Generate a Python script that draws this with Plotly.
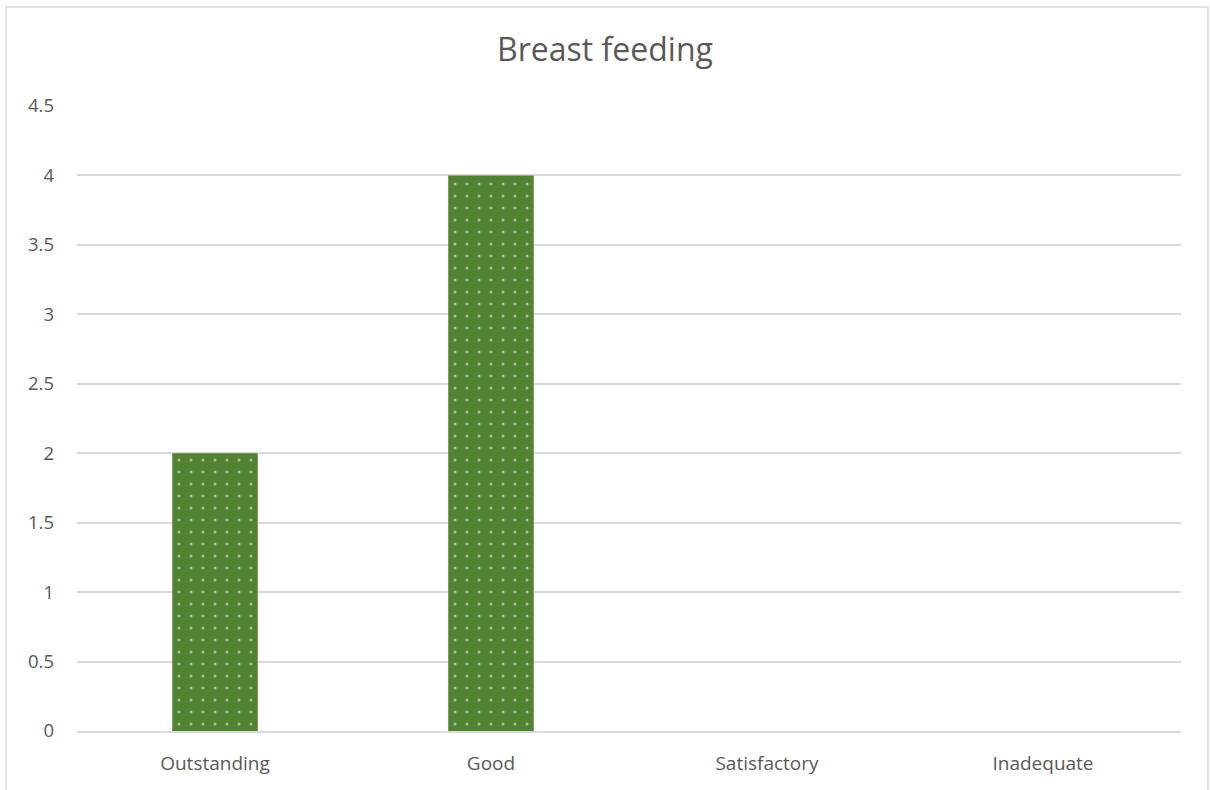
import plotly.graph_objects as go

categories = ["Outstanding", "Good", "Satisfactory", "Inadequate"]
values = [2, 4, 0, 0]
title_text = "Breast feeding"
y_ticks = [0, 0.5, 1, 1.5, 2, 2.5, 3, 3.5, 4, 4.5]
y_tick_labels = ["0", "0.5", "1", "1.5", "2", "2.5", "3", "3.5", "4", "4.5"]

W, H = 1210, 790
L, R, T, B = 77, 29, 106, 59
pw, ph = W - L - R, H - T - B

fig = go.Figure(go.Bar(
    x=categories, y=values,
    marker=dict(color="#548235", line=dict(width=0),
                pattern=dict(shape=".", fgcolor="white", bgcolor="#548235",
                             size=12, solidity=0.05, fillmode="overlay")),
    width=0.31,
))

fig.update_layout(
    width=W, height=H,
    margin=dict(l=L, r=R, t=T, b=B),
    paper_bgcolor="white", plot_bgcolor="white",
    showlegend=False,
    font=dict(family="Open Sans, sans-serif", color="#595959", size=18),
    title=dict(text=title_text, x=0.5, xanchor="center", y=1 - 50 / H, yanchor="middle",
               font=dict(size=32, color="#595959")),
    xaxis=dict(showgrid=False, showline=True, linecolor="#d9d9d9", linewidth=1.5,
               ticks="", ticklabelstandoff=14, tickfont=dict(size=19, color="#595959")),
    yaxis=dict(range=[0, 4.5], tickvals=y_ticks, ticktext=y_tick_labels,
               showgrid=True, gridcolor="#d9d9d9", gridwidth=1.5, zeroline=False,
               showline=False, ticks="", ticklabelstandoff=22,
               tickfont=dict(size=18.5, color="#595959")),
    shapes=[dict(type="rect", xref="paper", yref="paper",
                 x0=(6 - L) / pw, x1=(1208 - L) / pw,
                 y0=(H - B - 800) / ph, y1=(H - B - 7) / ph,
                 line=dict(color="#d9d9d9", width=1.5), fillcolor="rgba(0,0,0,0)", layer="below")],
)

fig.write_html("out.html", config={"displayModeBar": False},
               post_script="document.body.style.margin='0';")
